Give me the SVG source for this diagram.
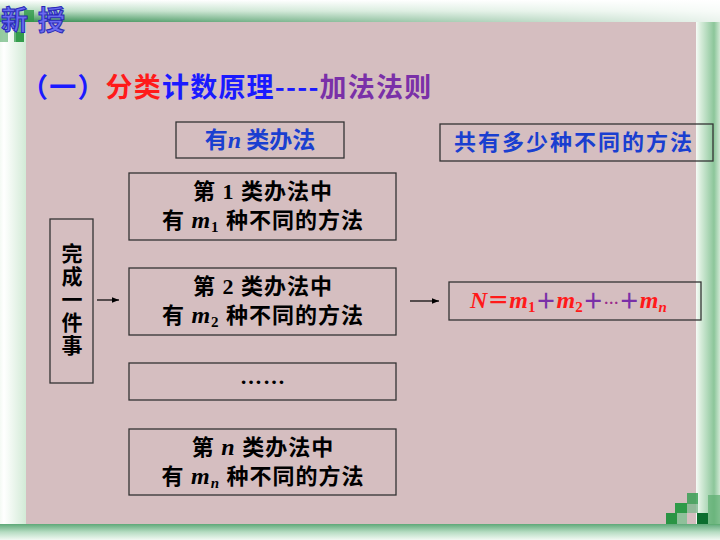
<svg xmlns="http://www.w3.org/2000/svg" width="720" height="540" viewBox="0 0 720 540">
<defs>
<linearGradient id="topV" x1="0" y1="0" x2="0" y2="1">
<stop offset="0" stop-color="#ffffff"/>
<stop offset="0.5" stop-color="#b8dcc2"/>
<stop offset="1" stop-color="#2f8a4c"/>
</linearGradient>
<linearGradient id="fadeR" x1="0" y1="0" x2="1" y2="0">
<stop offset="0" stop-color="#ffffff" stop-opacity="0"/>
<stop offset="0.35" stop-color="#ffffff" stop-opacity="0.35"/>
<stop offset="1" stop-color="#ffffff" stop-opacity="0.9"/>
</linearGradient>
<linearGradient id="leftG" x1="0" y1="0" x2="1" y2="0">
<stop offset="0" stop-color="#f4faf4"/>
<stop offset="0.15" stop-color="#ffffff"/>
<stop offset="1" stop-color="#d2ead6"/>
</linearGradient>
<linearGradient id="rightG" x1="0" y1="0" x2="1" y2="0">
<stop offset="0" stop-color="#f6fbf6"/>
<stop offset="0.2" stop-color="#d6ecda"/>
<stop offset="0.75" stop-color="#8cc69a"/>
<stop offset="1" stop-color="#d0e8d4"/>
</linearGradient>
<linearGradient id="botG" x1="0" y1="0" x2="0" y2="1">
<stop offset="0" stop-color="#5ea878"/>
<stop offset="0.5" stop-color="#b6dcc2"/>
<stop offset="1" stop-color="#f2f9f3"/>
</linearGradient>
<marker id="arr" viewBox="0 0 10 10" refX="10" refY="5" markerWidth="7" markerHeight="7" markerUnits="userSpaceOnUse" orient="auto">
<path d="M0,1 L10,5 L0,9 z" fill="#000"/>
</marker>
</defs>
<style>
.box{fill:none;stroke:#333;stroke-width:1.3}
.blk{font-family:"Liberation Serif","Noto Sans CJK SC",serif;font-weight:bold;font-size:22px;fill:#000;letter-spacing:1px}
.it{font-family:"Liberation Serif",serif;font-style:italic;font-weight:bold}
.blue{font-family:"Noto Sans CJK SC",sans-serif;font-weight:bold;fill:#1a3fd0}
.vt{font-family:"Noto Sans CJK SC",sans-serif;font-weight:bold;font-size:21px;fill:#000;writing-mode:vertical-rl;letter-spacing:2px}
.pl{fill:#7a30a8;font-family:"Noto Sans CJK SC",sans-serif;font-size:21px;font-style:normal}
</style>
<!-- background -->
<rect x="0" y="0" width="720" height="540" fill="#d5bec0"/>
<rect x="0" y="0" width="26" height="540" fill="url(#leftG)"/>
<rect x="696" y="0" width="24" height="540" fill="url(#rightG)"/>
<rect x="0" y="0" width="720" height="22" fill="url(#topV)"/>
<rect x="0" y="0" width="720" height="22" fill="url(#fadeR)"/>
<rect x="0" y="524" width="720" height="16" fill="url(#botG)"/>
<!-- logo squares -->
<g fill="#2f9a48">
<rect x="0" y="22" width="8" height="20" opacity="0.5"/>
<rect x="14" y="22" width="10" height="20" opacity="0.7"/>
<rect x="24" y="10" width="10" height="12" opacity="0.8"/>
<rect x="16" y="32" width="8" height="10" opacity="0.9"/>
</g>
<g id="logo">
<text x="1" y="30" font-family="Noto Sans CJK SC,sans-serif" font-weight="bold" font-size="27" fill="#6a6af0" stroke="#2a2ab8" stroke-width="1" letter-spacing="10">新授</text>
</g>
<!-- bottom-right squares -->
<g>
<rect x="687" y="493" width="11" height="11" fill="#3aa055" opacity="0.85"/>
<rect x="675" y="503" width="12" height="11" fill="#2e9a48"/>
<rect x="687" y="504" width="11" height="9" fill="#7fb88e" opacity="0.8"/>
<rect x="666" y="513" width="11" height="11" fill="#2a9444"/>
<rect x="677" y="513" width="10" height="11" fill="#8fc09a"/>
<rect x="697" y="513" width="11" height="11" fill="#0b6e2e"/>
<rect x="708" y="495" width="12" height="30" fill="#5cae70" opacity="0.7"/>
</g>
<!-- title -->
<text x="21" y="97" font-family="Noto Sans CJK SC,sans-serif" font-weight="bold" font-size="27" letter-spacing="1.2"><tspan fill="#1a1aff">（一）</tspan><tspan fill="#ff1a1a">分类</tspan><tspan fill="#1a1aff">计数原理----</tspan><tspan fill="#7a30a8">加法法则</tspan></text>

<g id="header1">
<rect class="box" x="176" y="122" width="168" height="36"/>
<text class="blue" x="260" y="148" font-size="23" text-anchor="middle">有<tspan class="it" font-size="24">n</tspan> 类办法</text>
</g>
<g id="header2">
<rect class="box" x="440" y="124" width="273" height="37"/>
<text class="blue" x="574" y="150" font-size="22" text-anchor="middle" letter-spacing="2">共有多少种不同的方法</text>
</g>

<g id="task">
<rect class="box" x="50" y="219" width="43" height="164"/>
<text class="vt" x="72" y="243">完成一件事</text>
</g>

<g id="class1">
<rect class="box" x="129" y="173" width="267" height="67"/>
<text class="blk" x="263" y="199" text-anchor="middle">第 1 类办法中</text>
<text class="blk" x="263" y="228" text-anchor="middle">有 <tspan class="it" font-size="24">m</tspan><tspan font-size="15" dy="4">1</tspan><tspan dy="-4"> 种不同的方法</tspan></text>
</g>
<g id="class2">
<rect class="box" x="129" y="268" width="267" height="67"/>
<text class="blk" x="263" y="294" text-anchor="middle">第 2 类办法中</text>
<text class="blk" x="263" y="323" text-anchor="middle">有 <tspan class="it" font-size="24">m</tspan><tspan font-size="15" dy="4">2</tspan><tspan dy="-4"> 种不同的方法</tspan></text>
</g>
<g id="class3">
<rect class="box" x="129" y="363" width="267" height="37"/>
<text class="blk" x="263" y="384" text-anchor="middle" letter-spacing="0">……</text>
</g>
<g id="classn">
<rect class="box" x="129" y="429" width="267" height="66"/>
<text class="blk" x="263" y="455" text-anchor="middle">第 <tspan class="it" font-size="24">n</tspan> 类办法中</text>
<text class="blk" x="263" y="484" text-anchor="middle">有 <tspan class="it" font-size="24">m</tspan><tspan class="it" font-size="15" dy="4">n</tspan><tspan dy="-4"> 种不同的方法</tspan></text>
</g>

<g id="result">
<rect class="box" x="449" y="282" width="252" height="38"/>
<text x="470" y="308" font-family="Liberation Serif,serif" font-weight="bold" font-size="24" fill="#ff1a1a"><tspan font-style="italic">N</tspan><tspan font-family="Noto Sans CJK SC,sans-serif" font-size="22">＝</tspan><tspan font-style="italic">m</tspan><tspan font-size="15" dy="4">1</tspan><tspan dy="-4" class="pl">＋</tspan><tspan font-style="italic">m</tspan><tspan font-size="15" dy="4">2</tspan><tspan dy="-4" class="pl">＋</tspan><tspan fill="#9a2a8a" font-size="15">···</tspan><tspan class="pl">＋</tspan><tspan font-style="italic">m</tspan><tspan font-style="italic" font-size="15" dy="4">n</tspan></text>
</g>

<g id="connectors" stroke="#000" stroke-width="1.2" fill="none">
<line x1="97" y1="300" x2="119" y2="300" marker-end="url(#arr)"/>
<line x1="410" y1="301" x2="439" y2="301" marker-end="url(#arr)"/>
</g>
</svg>
